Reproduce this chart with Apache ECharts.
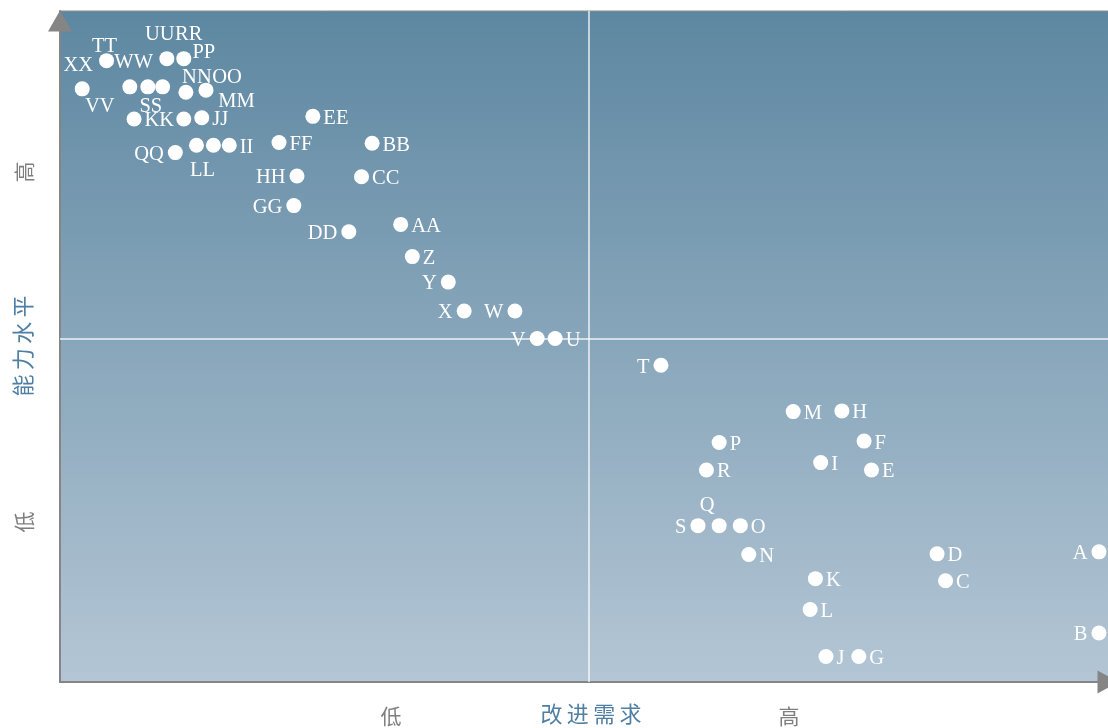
<!DOCTYPE html>
<html>
<head>
<meta charset="utf-8">
<title>能力水平 / 改进需求</title>
<script src="https://cdn.jsdelivr.net/npm/echarts@6/dist/echarts.min.js"></script>
<style>
  html, body { margin: 0; padding: 0; background: #ffffff; }
  #chart { width: 1108px; height: 728px; }
</style>
</head>
<body>
<div id="chart"></div>
<script>
// Item names
const names = [
  'A','B','C','D','E','F','G','H','I','J','K','L','M',
  'N','O','P','Q','R','S','T','U','V','W','X','Y','Z',
  'AA','BB','CC','DD','EE','FF','GG','HH','II','JJ','KK','LL',
  'MM','NN','OO','PP','QQ','RR','SS','TT','UU','VV','WW','XX'
];
// 改进需求 (horizontal score, 0-100)
const improvementNeed = [
  98.2, 98.2, 83.7, 82.9, 76.7, 76.0, 75.5, 73.9, 71.9, 72.4, 71.4, 70.9, 69.3,
  65.1, 64.3, 62.3, 62.3, 61.1, 60.3, 56.8, 46.8, 45.1, 43.0, 38.2, 36.7, 33.3,
  32.2, 29.5, 28.5, 27.3, 23.9, 20.7, 22.1, 22.4, 16.0, 13.4, 7.0, 12.9,
  14.5, 11.9, 13.8, 11.7, 10.9, 11.7, 8.3, 4.4, 10.1, 6.6, 9.7, 2.1
];
// 能力水平 (vertical score, 0-100)
const capabilityLevel = [
  19.4, 7.3, 15.1, 19.1, 31.6, 35.9, 3.8, 40.4, 32.7, 3.8, 15.4, 10.8, 40.3,
  19.0, 23.3, 35.7, 23.3, 31.6, 23.3, 47.2, 51.2, 51.2, 55.3, 55.3, 59.6, 63.4,
  68.2, 80.3, 75.3, 67.1, 84.3, 80.4, 71.0, 75.4, 80.0, 84.1, 83.9, 80.0,
  80.0, 87.9, 88.2, 83.9, 78.9, 92.9, 88.7, 92.6, 92.9, 88.7, 88.7, 88.4
];
// Quadrant dividers
const needDivider = 50;
const levelDivider = 51.1;

// Where each name tag sits around its dot: a side keyword, or a pixel nudge from the dot centre
const labelPlacement = [
  'left','left','right','right','right','right','right','right','right','right','right','right','right',
  'right','right','right',[-12,-20],'right','left','left','right','left','left','left','left','right',
  'right','right','right','left','right','right','left','left','right','right','right',[6,25],
  [23,-44],[11,-15],[21,-13],[20,-66],'left',[5,-24],[3,20],[-2,-14],[-7,-24],[-30,20],[-29,-24],[-4,-23]
];

const points = names.map(function (n, i) {
  const p = labelPlacement[i];
  const label = Array.isArray(p)
    ? { position: 'inside', offset: p, align: 'center', verticalAlign: 'middle' }
    : { position: p, distance: p === 'right' ? 3 : 4, offset: [0, 2] };
  return { name: n, value: [improvementNeed[i], capabilityLevel[i]], label: label };
});

const chart = echarts.init(document.getElementById('chart'), null, { renderer: 'canvas' });

const axisGray = '#858585';
const titleBlue = '#4f7fa3';
const cjkFont = '"Noto Sans CJK SC", sans-serif';
const sp = '\u2009';

chart.setOption({
  animation: false,
  grid: {
    left: 60, top: 11, width: 1058, height: 671,
    outerBoundsMode: 'none',
    containLabel: false,
    show: true,
    borderColor: '#8c8c8c',
    borderWidth: 1,
    backgroundColor: {
      type: 'linear', x: 0, y: 0, x2: 0, y2: 1,
      colorStops: [
        { offset: 0, color: '#5d87a1' },
        { offset: 1, color: '#b4c6d5' }
      ]
    }
  },
  xAxis: {
    type: 'value', min: 0, max: 100,
    splitLine: { show: false },
    axisTick: { show: false },
    axisLabel: { show: false },
    axisLine: {
      show: true, onZero: false,
      lineStyle: { color: axisGray, width: 2 },
      symbol: ['none', 'triangle'],
      symbolSize: [23, 21],
      symbolOffset: [0, -10]
    }
  },
  yAxis: {
    type: 'value', min: 0, max: 100,
    splitLine: { show: false },
    axisTick: { show: false },
    axisLabel: { show: false },
    axisLine: {
      show: true, onZero: false,
      lineStyle: { color: axisGray, width: 2 },
      symbol: ['none', 'triangle'],
      symbolSize: [24, 21],
      symbolOffset: [0, -10]
    }
  },
  series: [{
    type: 'scatter',
    symbol: 'circle',
    symbolSize: 15,
    itemStyle: { color: '#ffffff', opacity: 1 },
    label: {
      show: true,
      formatter: '{b}',
      color: '#ffffff',
      fontFamily: '"Liberation Serif", "Times New Roman", serif',
      fontSize: 20.5
    },
    data: points,
    markLine: {
      silent: true,
      symbol: ['none', 'none'],
      label: { show: false },
      lineStyle: { color: 'rgba(255,255,255,0.85)', width: 1.5, type: 'solid' },
      data: [{ xAxis: needDivider }, { yAxis: levelDivider }],
      z: 1
    },
    z: 3
  }],
  graphic: [
    { type: 'text', x: 391, y: 716, style: { text: '低', font: '21px ' + cjkFont, fill: '#7f7f7f', textAlign: 'center', textVerticalAlign: 'middle' } },
    { type: 'text', x: 591, y: 714, style: { text: '改' + sp + '进' + sp + '需' + sp + '求', font: '22px ' + cjkFont, fill: titleBlue, textAlign: 'center', textVerticalAlign: 'middle' } },
    { type: 'text', x: 789, y: 716, style: { text: '高', font: '21px ' + cjkFont, fill: '#7f7f7f', textAlign: 'center', textVerticalAlign: 'middle' } },
    { type: 'text', x: 24, y: 172, rotation: Math.PI / 2, style: { text: '高', font: '21px ' + cjkFont, fill: '#7f7f7f', textAlign: 'center', textVerticalAlign: 'middle' } },
    { type: 'text', x: 23, y: 346, rotation: Math.PI / 2, style: { text: '能' + sp + '力' + sp + '水' + sp + '平', font: '22px ' + cjkFont, fill: titleBlue, textAlign: 'center', textVerticalAlign: 'middle' } },
    { type: 'text', x: 24, y: 522, rotation: Math.PI / 2, style: { text: '低', font: '21px ' + cjkFont, fill: '#7f7f7f', textAlign: 'center', textVerticalAlign: 'middle' } }
  ]
});
</script>
</body>
</html>
